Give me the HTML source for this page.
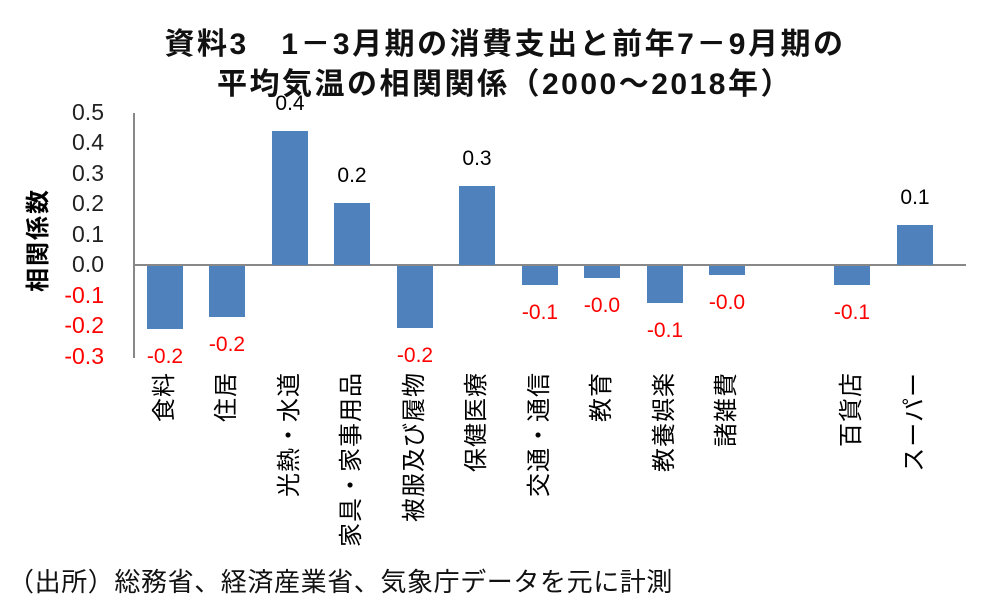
<!DOCTYPE html>
<html><head><meta charset="utf-8"><style>
body{margin:0;width:981px;height:609px;background:#fff;overflow:hidden;position:relative;font-family:"Liberation Sans","Noto Sans CJK JP",sans-serif}
.t{position:absolute;left:0;width:1010px;text-align:center;font-weight:bold;font-size:30px;letter-spacing:2.5px;color:#111;white-space:nowrap}
.y{position:absolute;left:40px;width:64px;text-align:right;font-size:23px;color:#222}
.cat{position:absolute;top:372px;transform-origin:0 0;transform:rotate(-90deg) translateX(-100%);font-size:24px;line-height:24px;color:#000;letter-spacing:1px;white-space:nowrap}
.v{position:absolute;width:60px;text-align:center;font-size:21px}
.bar{position:absolute;width:36px;background:#4f81bd}
</style></head><body>
<div class="t" style="top:19px">資料3　1－3月期の消費支出と前年7－9月期の</div>
<div class="t" style="top:59px">平均気温の相関関係（2000～2018年）</div>
<div style="position:absolute;left:26px;top:292px;transform-origin:0 0;transform:rotate(-90deg);font-weight:bold;font-size:24px;line-height:26px;letter-spacing:2px;white-space:nowrap">相関係数</div>
<div class="y" style="top:99px">0.5</div>
<div class="y" style="top:129px">0.4</div>
<div class="y" style="top:160px">0.3</div>
<div class="y" style="top:190px">0.2</div>
<div class="y" style="top:221px">0.1</div>
<div class="y" style="top:251px">0.0</div>
<div class="y" style="top:282px;color:#f00">-0.1</div>
<div class="y" style="top:312px;color:#f00">-0.2</div>
<div class="y" style="top:343px;color:#f00">-0.3</div>
<div style="position:absolute;left:133px;top:113px;width:2px;height:245px;background:#888"></div>
<div style="position:absolute;left:134px;top:264px;width:832px;height:2px;background:#888"></div>

<div class="bar" style="left:147px;top:266px;height:63px"></div>
<div class="bar" style="left:209px;top:266px;height:51px"></div>
<div class="bar" style="left:272px;top:131px;height:134px"></div>
<div class="bar" style="left:334px;top:203px;height:62px"></div>
<div class="bar" style="left:397px;top:266px;height:62px"></div>
<div class="bar" style="left:459px;top:186px;height:79px"></div>
<div class="bar" style="left:522px;top:266px;height:19px"></div>
<div class="bar" style="left:584px;top:266px;height:12px"></div>
<div class="bar" style="left:647px;top:266px;height:37px"></div>
<div class="bar" style="left:709px;top:266px;height:9px"></div>
<div class="bar" style="left:834px;top:266px;height:19px"></div>
<div class="bar" style="left:897px;top:225px;height:40px"></div>

<div class="v" style="left:135px;top:345px;color:#f00">-0.2</div>
<div class="v" style="left:197px;top:333px;color:#f00">-0.2</div>
<div class="v" style="left:260px;top:92px">0.4</div>
<div class="v" style="left:322px;top:164px">0.2</div>
<div class="v" style="left:385px;top:344px;color:#f00">-0.2</div>
<div class="v" style="left:447px;top:147px">0.3</div>
<div class="v" style="left:510px;top:301px;color:#f00">-0.1</div>
<div class="v" style="left:572px;top:294px;color:#f00">-0.0</div>
<div class="v" style="left:635px;top:319px;color:#f00">-0.1</div>
<div class="v" style="left:697px;top:291px;color:#f00">-0.0</div>
<div class="v" style="left:822px;top:301px;color:#f00">-0.1</div>
<div class="v" style="left:885px;top:186px">0.1</div>

<div class="cat" style="left:153px">食料</div>
<div class="cat" style="left:215px">住居</div>
<div class="cat" style="left:278px">光熱・水道</div>
<div class="cat" style="left:340px">家具・家事用品</div>
<div class="cat" style="left:403px">被服及び履物</div>
<div class="cat" style="left:465px">保健医療</div>
<div class="cat" style="left:528px">交通・通信</div>
<div class="cat" style="left:590px">教育</div>
<div class="cat" style="left:653px">教養娯楽</div>
<div class="cat" style="left:715px">諸雑費</div>
<div class="cat" style="left:840px">百貨店</div>
<div class="cat" style="left:903px">スーパー</div>

<div style="position:absolute;left:8px;top:562px;font-size:26px;letter-spacing:0.6px;color:#111;white-space:nowrap">（出所）総務省、経済産業省、気象庁データを元に計測</div>
</body></html>
